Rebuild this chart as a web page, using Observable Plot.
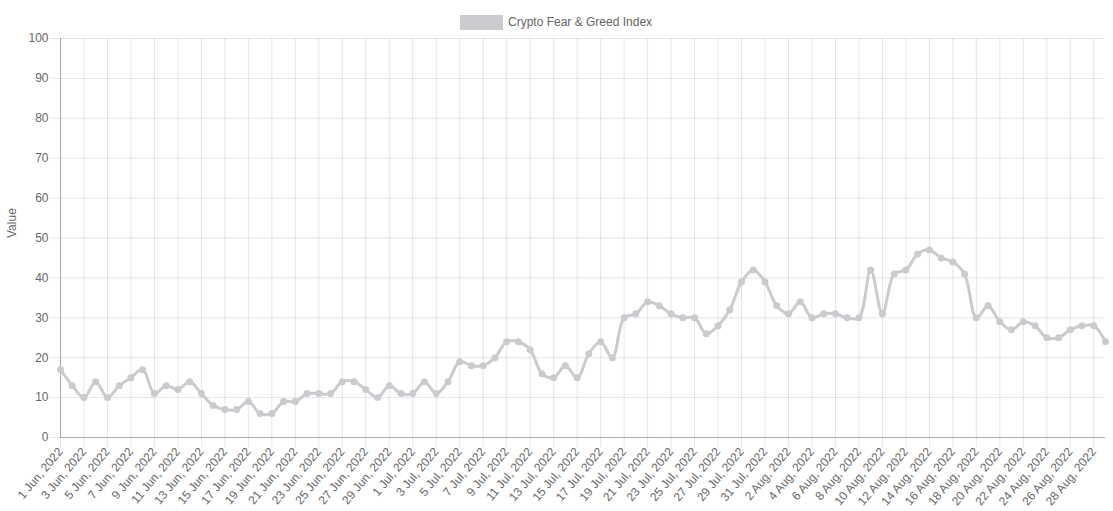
<!DOCTYPE html>
<html>
<head>
<meta charset="utf-8">
<script src="https://cdn.jsdelivr.net/npm/d3@7"></script>
<script src="https://cdn.jsdelivr.net/npm/@observablehq/plot@0.6"></script>
<style>
  html, body { margin: 0; padding: 0; background: #fff; }
  #wrap { position: relative; width: 1113px; height: 511px; font-family: "Liberation Sans", Arial, Helvetica, sans-serif; }
  #legend { position: absolute; left: 0; top: 0; width: 1113px; height: 30px; }
  #legend .box { position: absolute; left: 460px; top: 15px; width: 43px; height: 15px; background: rgb(201,203,207); }
  #legend .lab { position: absolute; left: 508px; top: 14px; font-size: 12px; color: #666; line-height: 16px; white-space: nowrap; }
  #chart { position: absolute; left: 0; top: 30px; }
</style>
</head>
<body>
<div id="wrap">
  <div id="legend"><div class="box"></div><div class="lab">Crypto Fear &amp; Greed Index</div></div>
  <div id="chart"></div>
</div>
<script>
// Series name
const seriesName = "Crypto Fear & Greed Index";
// First day of the series (1 Jun 2022), one value per day
const startDate = new Date(Date.UTC(2022, 5, 1));
// Daily index values, 1 Jun 2022 .. 29 Aug 2022
const values = [
  17, 13, 10, 14, 10, 13, 15, 17, 11, 13,
  12, 14, 11, 8, 7, 7, 9, 6, 6, 9,
  9, 11, 11, 11, 14, 14, 12, 10, 13, 11,
  11, 14, 11, 14, 19, 18, 18, 20, 24, 24,
  22, 16, 15, 18, 15, 21, 24, 20, 30, 31,
  34, 33, 31, 30, 30, 26, 28, 32, 39, 42,
  39, 33, 31, 34, 30, 31, 31, 30, 30, 42,
  31, 41, 42, 46, 47, 45, 44, 41, 30, 33,
  29, 27, 29, 28, 25, 25, 27, 28, 28, 24
];
// Y tick values
const yTicks = [0, 10, 20, 30, 40, 50, 60, 70, 80, 90, 100];
const yLabel = "Value";

const dates = values.map((_, i) => d3.utcDay.offset(startDate, i));
const data = values.map((v, i) => ({date: dates[i], value: v}));
const xTicks = dates.filter((d, i) => i % 2 === 0 && i < dates.length - 1);
const fmt = d3.utcFormat("%-d %b, %Y");

const lineColor = "rgb(201,203,207)";
const gridColor = "rgba(0,0,0,0.1)";
const axisColor = "rgba(0,0,0,0.25)";

const chart = Plot.plot({
  width: 1113,
  height: 481,
  marginLeft: 60,
  marginRight: 8,
  marginTop: 8,
  marginBottom: 74,
  style: {fontFamily: "'Liberation Sans', Arial, Helvetica, sans-serif", fontSize: "12px", color: "#666", background: "#fff", overflow: "visible"},
  x: {type: "utc", domain: [dates[0], dates[dates.length - 1]]},
  y: {domain: [0, 100]},
  marks: [
    Plot.gridY({ticks: yTicks, stroke: "#000", strokeOpacity: 0.1}),
    Plot.gridX({ticks: xTicks, stroke: "#000", strokeOpacity: 0.1}),
    Plot.axisY({ticks: yTicks, tickSize: 10, tickPadding: 2, stroke: gridColor, strokeOpacity: 1, fill: "#666", label: null}),
    Plot.axisX({ticks: xTicks, tickFormat: fmt, tickRotate: -50, tickSize: 10, tickPadding: 2, stroke: gridColor, strokeOpacity: 1, fill: "#666", label: null}),
    Plot.ruleY([0], {stroke: axisColor}),
    Plot.ruleX([dates[0]], {stroke: axisColor}),
    Plot.text([yLabel], {frameAnchor: "left", rotate: -90, dx: -48, fill: "#666", fontSize: 12}),
    Plot.line(data, {x: "date", y: "value", stroke: lineColor, strokeWidth: 3, curve: "catmull-rom"}),
    Plot.dot(data, {x: "date", y: "value", r: 3.5, fill: lineColor, stroke: null})
  ]
});
document.getElementById("chart").appendChild(chart);
</script>
</body>
</html>
